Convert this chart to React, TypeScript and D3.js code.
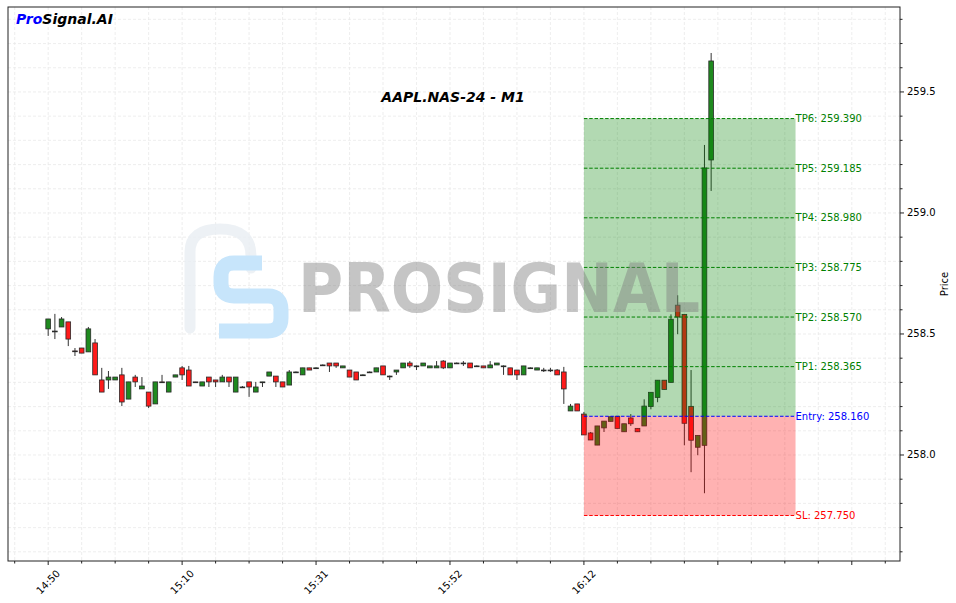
import { useRef, useEffect } from "react";
import * as d3 from "d3";

// x tick labels, one per 20 candles
const timeLabels = ["14:50", "15:10", "15:31", "15:52", "16:12", "", ""];

// OHLC per minute candle
const opens = [
  258.521, 258.512, 258.529, 258.55, 258.43, 258.442, 258.426, 258.463, 258.31, 258.31,
  258.31, 258.331, 258.231, 258.322, 258.273, 258.26, 258.211, 258.302, 258.26, 258.322,
  258.36, 258.351, 258.302, 258.285, 258.322, 258.31, 258.302, 258.322, 258.26, 258.281,
  258.302, 258.26, 258.302, 258.326, 258.326, 258.302, 258.289, 258.343, 258.331, 258.36,
  258.36, 258.372, 258.38, 258.38, 258.36, 258.351, 258.343, 258.331, 258.343, 258.343,
  258.368, 258.326, 258.343, 258.36, 258.38, 258.368, 258.368, 258.36, 258.36, 258.388,
  258.36, 258.38, 258.38, 258.38, 258.368, 258.368, 258.36, 258.372, 258.368, 258.36,
  258.351, 258.331, 258.36, 258.351, 258.351, 258.351, 258.351, 258.343, 258.182, 258.211,
  258.169, 258.091, 258.041, 258.112, 258.139, 258.16, 258.096, 258.153, 258.11, 258.12,
  258.2, 258.238, 258.309, 258.3, 258.619, 258.581, 258.201, 258.032, 258.04, 259.219,
];
const highs = [
  258.562, 258.583, 258.57, 258.55, 258.442, 258.442, 258.529, 258.479, 258.36, 258.347,
  258.322, 258.36, 258.302, 258.331, 258.322, 258.26, 258.302, 258.331, 258.302, 258.331,
  258.368, 258.368, 258.302, 258.302, 258.322, 258.31, 258.331, 258.322, 258.322, 258.285,
  258.302, 258.302, 258.302, 258.343, 258.326, 258.302, 258.351, 258.345, 258.36, 258.36,
  258.362, 258.374, 258.38, 258.38, 258.368, 258.351, 258.343, 258.333, 258.345, 258.36,
  258.368, 258.328, 258.351, 258.38, 258.388, 258.37, 258.38, 258.368, 258.388, 258.392,
  258.38, 258.382, 258.388, 258.38, 258.37, 258.368, 258.388, 258.38, 258.37, 258.36,
  258.351, 258.368, 258.362, 258.36, 258.36, 258.36, 258.355, 258.364, 258.211, 258.211,
  258.178, 258.095, 258.12, 258.14, 258.158, 258.16, 258.129, 258.169, 258.11, 258.23,
  258.259, 258.309, 258.309, 258.581, 258.66, 258.581, 258.351, 258.081, 259.281, 259.661,
];
const lows = [
  258.492, 258.479, 258.529, 258.45, 258.409, 258.421, 258.426, 258.331, 258.26, 258.273,
  258.31, 258.202, 258.231, 258.281, 258.273, 258.194, 258.211, 258.3, 258.26, 258.322,
  258.31, 258.285, 258.298, 258.285, 258.281, 258.281, 258.302, 258.281, 258.26, 258.281,
  258.24, 258.26, 258.281, 258.326, 258.281, 258.281, 258.289, 258.343, 258.331, 258.351,
  258.358, 258.37, 258.343, 258.36, 258.36, 258.322, 258.31, 258.329, 258.341, 258.343,
  258.331, 258.31, 258.331, 258.36, 258.36, 258.351, 258.368, 258.36, 258.36, 258.355,
  258.36, 258.378, 258.368, 258.36, 258.366, 258.36, 258.36, 258.372, 258.331, 258.331,
  258.31, 258.331, 258.358, 258.351, 258.343, 258.343, 258.331, 258.211, 258.182, 258.182,
  258.083, 258.062, 258.041, 258.095, 258.139, 258.11, 258.096, 258.12, 258.096, 258.12,
  258.189, 258.218, 258.271, 258.3, 258.499, 258.04, 257.929, 257.999, 257.842, 259.091,
];
const closes = [
  258.562, 258.512, 258.562, 258.479, 258.428, 258.421, 258.521, 258.331, 258.26, 258.322,
  258.322, 258.219, 258.302, 258.302, 258.285, 258.202, 258.302, 258.3, 258.302, 258.331,
  258.331, 258.285, 258.3, 258.302, 258.302, 258.302, 258.322, 258.302, 258.322, 258.281,
  258.281, 258.281, 258.302, 258.343, 258.302, 258.281, 258.343, 258.343, 258.36, 258.351,
  258.36, 258.372, 258.368, 258.368, 258.368, 258.322, 258.31, 258.331, 258.343, 258.36,
  258.331, 258.326, 258.351, 258.38, 258.368, 258.368, 258.38, 258.368, 258.368, 258.36,
  258.38, 258.38, 258.38, 258.36, 258.368, 258.36, 258.372, 258.38, 258.368, 258.331,
  258.331, 258.368, 258.36, 258.36, 258.351, 258.351, 258.331, 258.273, 258.202, 258.182,
  258.083, 258.062, 258.12, 258.14, 258.158, 258.11, 258.129, 258.129, 258.096, 258.202,
  258.259, 258.309, 258.271, 258.561, 258.57, 258.131, 258.061, 258.081, 259.186, 259.628,
];

// signal levels
const tpNames = ["TP1", "TP2", "TP3", "TP4", "TP5", "TP6"];
const tpPrices = [258.365, 258.57, 258.775, 258.98, 259.185, 259.39];
const entryPrice = 258.16;
const slPrice = 257.75;
const zoneStart = 80; // candle index of the signal
const zoneEnd = 111.6;

const W = 956;
const H = 603;
const M = { left: 8, right: 900, top: 7, bottom: 561 };

export default function App() {
  const svgRef = useRef(null);

  useEffect(() => {
    document.body.style.margin = "0";
    const svg = d3.select(svgRef.current);
    svg.selectAll("*").remove();
    svg.attr("width", W).attr("height", H).style("display", "block");

    const font = "DejaVu Sans, sans-serif";
    const x = d3.scaleLinear().domain([-6, 127.2]).range([M.left, M.right]);
    const y = d3.scaleLinear().domain([257.562, 259.851]).range([M.bottom, M.top]);

    svg.append("rect").attr("width", W).attr("height", H).attr("fill", "#fff");

    // grid
    const grid = svg.append("g").attr("stroke", "#d4d4d4").attr("stroke-width", 0.7)
      .attr("stroke-dasharray", "3,2").attr("opacity", 0.55);
    const xMinor = d3.range(-5, 127, 5);
    grid.selectAll("line.gx").data(xMinor).join("line")
      .attr("x1", (d) => x(d)).attr("x2", (d) => x(d)).attr("y1", M.top).attr("y2", M.bottom);
    const yMinor = d3.range(257.6, 259.85, 0.1);
    grid.selectAll("line.gy").data(yMinor).join("line")
      .attr("y1", (d) => y(d)).attr("y2", (d) => y(d)).attr("x1", M.left).attr("x2", M.right);

    // candles
    const idx = d3.range(opens.length);
    const bw = (x(1) - x(0)) * 0.7;
    const cg = svg.append("g");
    cg.selectAll("line.wick").data(idx).join("line")
      .attr("x1", (i) => x(i)).attr("x2", (i) => x(i))
      .attr("y1", (i) => y(highs[i])).attr("y2", (i) => y(lows[i]))
      .attr("stroke", "#333").attr("stroke-width", 1);
    cg.selectAll("rect.body").data(idx).join("rect")
      .attr("x", (i) => x(i) - bw / 2).attr("width", bw)
      .attr("y", (i) => y(Math.max(opens[i], closes[i])))
      .attr("height", (i) => Math.max(0.8, Math.abs(y(opens[i]) - y(closes[i]))))
      .attr("fill", (i) => (closes[i] >= opens[i] ? "#1f8a1f" : "#ff1a1a"))
      .attr("stroke", "#2a2a2a").attr("stroke-width", 0.8);

    // zones
    svg.append("rect")
      .attr("x", x(zoneStart)).attr("width", x(zoneEnd) - x(zoneStart))
      .attr("y", y(tpPrices[5])).attr("height", y(entryPrice) - y(tpPrices[5]))
      .attr("fill", "green").attr("opacity", 0.3);
    svg.append("rect")
      .attr("x", x(zoneStart)).attr("width", x(zoneEnd) - x(zoneStart))
      .attr("y", y(entryPrice)).attr("height", y(slPrice) - y(entryPrice))
      .attr("fill", "red").attr("opacity", 0.3);

    const levels = [
      ...tpNames.map((n, i) => ({ label: `${n}: ${tpPrices[i].toFixed(3)}`, price: tpPrices[i], color: "green" })),
      { label: `Entry: ${entryPrice.toFixed(3)}`, price: entryPrice, color: "blue" },
      { label: `SL: ${slPrice.toFixed(3)}`, price: slPrice, color: "red" },
    ];
    const lg = svg.append("g");
    lg.selectAll("line").data(levels).join("line")
      .attr("x1", x(zoneStart)).attr("x2", x(zoneEnd))
      .attr("y1", (d) => y(d.price)).attr("y2", (d) => y(d.price))
      .attr("stroke", (d) => d.color).attr("stroke-width", 1).attr("stroke-dasharray", "3.5,1.8");
    lg.selectAll("text").data(levels).join("text")
      .attr("x", x(zoneEnd)).attr("y", (d) => y(d.price)).attr("dy", "0.35em")
      .attr("fill", (d) => d.color).attr("font-family", font).attr("font-size", 10)
      .text((d) => d.label);

    // watermark
    const wm = svg.append("g");
    wm.append("path")
      .attr("d", "M190,328 V252 Q190,229 220,229 Q251,229 251,256 V268")
      .attr("fill", "none").attr("stroke", "#e9eef2").attr("stroke-width", 11)
      .attr("stroke-linecap", "round").attr("opacity", 0.8);
    wm.append("path")
      .attr("d", "M262,263 H234 Q221,263 221,277 V283 Q221,296 234,296 H268 Q281,296 281,310 V318 Q281,331 268,331 H219")
      .attr("fill", "none").attr("stroke", "#c7e5fb").attr("stroke-width", 15)
      .attr("stroke-linejoin", "round");
    wm.append("text")
      .attr("x", 298).attr("y", 312)
      .attr("font-family", font).attr("font-weight", "bold").attr("font-size", 68)
      .attr("textLength", 402).attr("lengthAdjust", "spacingAndGlyphs")
      .attr("fill", "#808080").attr("opacity", 0.45)
      .text("PROSIGNAL");

    // frame
    svg.append("rect")
      .attr("x", M.left).attr("y", M.top)
      .attr("width", M.right - M.left).attr("height", M.bottom - M.top)
      .attr("fill", "none").attr("stroke", "#222").attr("stroke-width", 1);

    // x axis
    const xg = svg.append("g").attr("stroke", "#222");
    xg.selectAll("line.minor").data(xMinor).join("line")
      .attr("x1", (d) => x(d)).attr("x2", (d) => x(d))
      .attr("y1", M.bottom).attr("y2", (d) => M.bottom + (d % 20 === 0 ? 4 : 2.5));
    svg.append("g").selectAll("text").data(timeLabels).join("text")
      .attr("transform", (_, i) => `translate(${x(i * 20)},${M.bottom + 21}) rotate(-45)`)
      .attr("text-anchor", "middle").attr("dy", "0.35em")
      .attr("font-family", font).attr("font-size", 10).attr("fill", "#000")
      .text((d) => d);

    // y axis (right)
    const yMajor = [258.0, 258.5, 259.0, 259.5];
    const yg = svg.append("g").attr("stroke", "#222");
    yg.selectAll("line").data(yMinor).join("line")
      .attr("x1", M.right).attr("y1", (d) => y(d)).attr("y2", (d) => y(d))
      .attr("x2", (d) => M.right + (yMajor.some((m) => Math.abs(m - d) < 1e-6) ? 4 : 2.5));
    svg.append("g").selectAll("text").data(yMajor).join("text")
      .attr("x", M.right + 7).attr("y", (d) => y(d)).attr("dy", "0.35em")
      .attr("font-family", font).attr("font-size", 10).attr("fill", "#000")
      .text((d) => d.toFixed(1));
    svg.append("text")
      .attr("transform", `translate(948,${(M.top + M.bottom) / 2}) rotate(-90)`)
      .attr("text-anchor", "middle")
      .attr("font-family", font).attr("font-size", 10).attr("fill", "#000")
      .text("Price");

    // title and logo
    svg.append("text")
      .attr("x", 453).attr("y", 102).attr("text-anchor", "middle")
      .attr("font-family", font).attr("font-size", 14).attr("font-weight", "bold")
      .attr("font-style", "italic").text("AAPL.NAS-24 - M1");
    const logo = svg.append("text")
      .attr("x", 16).attr("y", 24)
      .attr("font-family", font).attr("font-size", 14).attr("font-weight", "bold")
      .attr("font-style", "italic");
    logo.append("tspan").attr("fill", "blue").text("Pro");
    logo.append("tspan").attr("fill", "#000").text("Signal.AI");
  }, []);

  return (
    <div>
      <svg ref={svgRef} />
    </div>
  );
}
